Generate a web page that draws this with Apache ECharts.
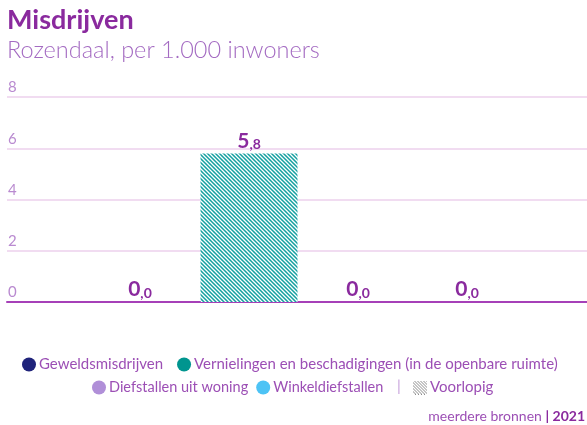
<!DOCTYPE html>
<html>
<head>
<meta charset="utf-8">
<script src="https://cdn.jsdelivr.net/npm/echarts@6/dist/echarts.min.js"></script>
<style>
  html, body { margin: 0; padding: 0; background: #fff; }
  #chart { width: 587px; height: 425px; }
</style>
</head>
<body>
<div id="chart"></div>
<script>
// data
const categories = ['2021'];
const seriesNames = [
  'Geweldsmisdrijven',
  'Vernielingen en beschadigingen (in de openbare ruimte)',
  'Diefstallen uit woning',
  'Winkeldiefstallen'
];
const seriesValues = [0.0, 5.8, 0.0, 0.0];
const provisional = [false, true, false, false];
const seriesColors = ['#1f237a', '#00958f', '#b08fd8', '#4dc3f5'];
const yTicks = [0, 2, 4, 6, 8];

const font = '"Source Sans Pro", Lato, "Noto Sans", sans-serif';
const purple = '#8a2a9e';

// hatch pattern for "voorlopig"
function hatch(bg, size) {
  const c = document.createElement('canvas');
  c.width = size; c.height = size;
  const ctx = c.getContext('2d');
  ctx.fillStyle = bg;
  ctx.fillRect(0, 0, size, size);
  ctx.strokeStyle = '#ffffff';
  ctx.lineWidth = 1.3;
  ctx.beginPath();
  ctx.moveTo(-1, -1); ctx.lineTo(size + 1, size + 1);
  ctx.moveTo(-1, size - 1); ctx.lineTo(1, size + 1);
  ctx.moveTo(size - 1, -1); ctx.lineTo(size + 1, 1);
  ctx.stroke();
  return c;
}

function legendIcon() {
  const c = document.createElement('canvas');
  c.width = 14; c.height = 14;
  const ctx = c.getContext('2d');
  ctx.fillStyle = '#ffffff';
  ctx.fillRect(0, 0, 14, 14);
  ctx.strokeStyle = '#8c8c8c';
  ctx.lineWidth = 1;
  for (let k = -14; k < 14; k += 3) {
    ctx.beginPath();
    ctx.moveTo(k, 0); ctx.lineTo(k + 14, 14);
    ctx.stroke();
  }
  return c.toDataURL();
}

function fmt(v) {
  const s = v.toFixed(1).split('.');
  return '{a|' + s[0] + '}{b|,' + s[1] + '}';
}

const chart = echarts.init(document.getElementById('chart'));

// bars live on the second grid (shifted a bit to the right, like the original)
const barSeries = seriesNames.map((name, i) => ({
  name: name,
  type: 'bar',
  xAxisIndex: 1,
  yAxisIndex: 1,
  barWidth: 97,
  barGap: '12.4%',
  data: [seriesValues[i]],
  itemStyle: {
    color: provisional[i]
      ? { image: hatch('#14a0a0', 4), repeat: 'repeat' }
      : seriesColors[i]
  },
  label: {
    show: true,
    position: 'top',
    distance: 2,
    formatter: p => fmt(p.value),
    rich: {
      a: { fontFamily: font, fontSize: 21, fontWeight: 'bold', color: purple },
      b: { fontFamily: font, fontSize: 14, fontWeight: 'bold', color: purple, verticalAlign: 'bottom', padding: [5, 0, 0, 0] }
    }
  },
  emphasis: { disabled: true }
}));

// legend entry for provisional values
barSeries.push({ name: 'Voorlopig', type: 'line', xAxisIndex: 1, yAxisIndex: 1, data: [] });

const legendColor = name => seriesColors[seriesNames.indexOf(name)];

const legendText = { fontFamily: font, fontSize: 15, color: '#9c4fb5', padding: [0, 0, 0, -2] };

const yBase = {
  type: 'value',
  min: yTicks[0],
  max: yTicks[yTicks.length - 1],
  interval: 2
};

chart.setOption({
  animation: false,
  color: seriesColors,
  title: [
    {
      text: 'Misdrijven',
      left: 2, top: 2,
      textStyle: { fontFamily: font, fontSize: 27, fontWeight: 'bold', color: purple }
    },
    {
      text: 'Rozendaal, per 1.000 inwoners',
      left: 2, top: 33,
      textStyle: { fontFamily: font, fontSize: 23.5, fontWeight: 300, color: '#a46bc2' }
    }
  ],
  grid: [
    { left: 7, right: 0, top: 97, bottom: 123 },
    { left: 20, right: 0, top: 97, bottom: 123 }
  ],
  xAxis: [
    {
      type: 'category',
      gridIndex: 0,
      data: categories,
      axisLine: { lineStyle: { color: '#a640b8', width: 2 } },
      axisTick: { show: false },
      axisLabel: { show: false }
    },
    {
      type: 'category',
      gridIndex: 1,
      data: categories,
      show: false
    }
  ],
  yAxis: [
    Object.assign({}, yBase, {
      gridIndex: 0,
      axisLine: { show: false },
      axisTick: { show: false },
      axisLabel: {
        inside: true,
        margin: 1,
        verticalAlign: 'bottom',
        padding: [0, 0, 2, 0],
        fontFamily: font,
        fontSize: 15,
        color: '#b98ad0'
      },
      splitLine: { lineStyle: { color: '#f1dcf1', width: 2 } }
    }),
    Object.assign({}, yBase, { gridIndex: 1, show: false, splitLine: { show: false } })
  ],
  legend: [
    {
      data: seriesNames.slice(0, 2).map(n => ({ name: n, itemStyle: { color: legendColor(n) } })),
      left: 17, top: 352,
      icon: 'circle', itemWidth: 14, itemHeight: 14, itemGap: 14,
      selectedMode: false,
      textStyle: legendText
    },
    {
      data: seriesNames.slice(2, 4).map(n => ({ name: n, itemStyle: { color: legendColor(n) } })),
      left: 87, top: 375,
      icon: 'circle', itemWidth: 14, itemHeight: 14, itemGap: 8,
      selectedMode: false,
      textStyle: Object.assign({}, legendText, { fontSize: 14.5 })
    },
    {
      data: [{ name: 'Voorlopig', icon: 'image://' + legendIcon() }],
      left: 408, top: 375,
      itemWidth: 14, itemHeight: 14,
      selectedMode: false,
      textStyle: legendText
    }
  ],
  graphic: [
    {
      type: 'text', left: 397, top: 379,
      style: { text: '|', fontFamily: font, fontSize: 15, fill: '#c7a2dc' }
    },
    {
      type: 'text', right: 2, top: 409,
      style: {
        text: '{n|meerdere bronnen }{s|| }{y|2021}',
        rich: {
          n: { fontFamily: font, fontSize: 14, fill: '#9c4fb5' },
          s: { fontFamily: font, fontSize: 14, fontWeight: 'bold', fill: purple },
          y: { fontFamily: font, fontSize: 14, fontWeight: 'bold', fill: purple }
        }
      }
    }
  ],
  series: barSeries
});
</script>
</body>
</html>
